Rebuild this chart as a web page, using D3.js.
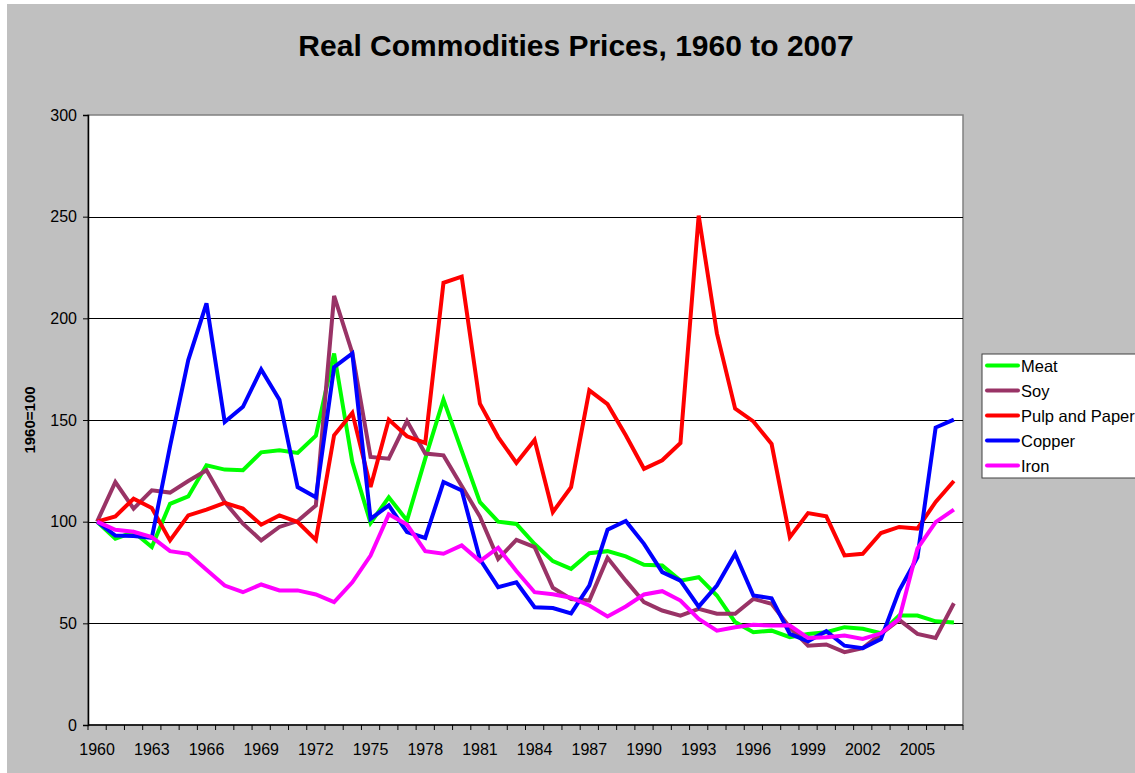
<!DOCTYPE html>
<html>
<head>
<meta charset="utf-8">
<script src="https://cdn.jsdelivr.net/npm/d3@7"></script>
<style>
  body { margin: 0; background: #fff; }
  svg { display: block; font-family: Arial, "Liberation Sans", sans-serif; }
</style>
</head>
<body>
<svg width="1135" height="773"></svg>
<script>
// years 1960..2007
const years = [
  1960, 1961, 1962, 1963, 1964, 1965, 1966, 1967, 1968, 1969,
  1970, 1971, 1972, 1973, 1974, 1975, 1976, 1977, 1978, 1979,
  1980, 1981, 1982, 1983, 1984, 1985, 1986, 1987, 1988, 1989,
  1990, 1991, 1992, 1993, 1994, 1995, 1996, 1997, 1998, 1999,
  2000, 2001, 2002, 2003, 2004, 2005, 2006, 2007
];

const meat = [
  100, 91.6, 94.9, 87.5, 108.8, 112.4, 127.7, 125.6, 125.3, 134.1,
  135.1, 133.8, 142.3, 182.7, 129.3, 99.3, 112, 100.6, 131, 160,
  134.8, 109.6, 100, 98.9, 89, 80.6, 76.8, 84.5, 85.5, 82.9,
  78.8, 78.4, 71, 72.7, 63.7, 50.6, 45.6, 46.4, 43.2, 44.8,
  45.6, 48.1, 47.3, 45.1, 53.8, 53.8, 51, 50.4
];

const soy = [
  100, 119.5, 106.4, 115.4, 114.3, 120, 125.3, 109.6, 99, 90.8,
  97.4, 100.3, 108, 211, 183, 131.8, 131, 149.5, 133.5, 132.6,
  117.5, 102.5, 81.7, 91, 87.5, 67.5, 62, 61.2, 82.2, 71,
  60.4, 56.3, 53.8, 57.1, 54.7, 54.7, 62, 59.6, 48, 39,
  39.6, 35.8, 37.8, 44.8, 51.7, 44.8, 42.8, 59.9
];

const pulp = [
  100, 102.6, 111.3, 106.7, 90.8, 103.1, 105.9, 109.2, 106.4, 98.5,
  103.1, 99.8, 91, 142.5, 153.5, 117, 150.2, 142, 138.7, 217.5,
  220.5, 158, 141.6, 128.9, 140.2, 104.7, 117, 164.6, 157.8, 142.5,
  126, 130.2, 138.7, 250.5, 192.6, 155.6, 149.3, 138.2, 92.4, 104.2,
  102.6, 83.4, 84.2, 94.4, 97.4, 96.6, 109.7, 120
];

const copper = [
  100, 93.2, 92.9, 92, 137, 179.5, 207.4, 149, 156.5, 174.9,
  160, 117, 112, 176, 182.7, 101.4, 108, 94.9, 92, 119.5,
  115.4, 81.5, 67.8, 70.2, 57.9, 57.5, 54.9, 68.6, 96, 100.3,
  89.1, 75.2, 71, 58.2, 68.6, 84.2, 63.7, 62.3, 44.8, 41.2,
  46.1, 39, 37.8, 42.3, 66.1, 82.5, 146.3, 150.2
];

const iron = [
  100, 96, 95, 92.4, 85.5, 84.2, 76.3, 68.6, 65.3, 69.1,
  66.2, 66.2, 64.2, 60.4, 70.2, 83.3, 103.6, 98.6, 85.5, 84.2,
  88.3, 80.6, 87.2, 75.7, 65.3, 64.3, 62.6, 58.8, 53.4, 58.3,
  64.2, 65.8, 61.2, 52.2, 46.4, 48.1, 49.3, 48.9, 48.9, 42.8,
  43.2, 44, 42.3, 45.1, 52.2, 86.7, 99.8, 105.9
];

const seriesNames = ["Meat", "Soy", "Pulp and Paper", "Copper", "Iron"];
const seriesColors = ["#00ff00", "#993366", "#ff0000", "#0000ff", "#ff00ff"];
const seriesValues = [meat, soy, pulp, copper, iron];
const yTicks = [0, 50, 100, 150, 200, 250, 300];
const xLabels = years.filter((d, i) => i % 3 === 0);

const svg = d3.select("svg");

// background
svg.append("rect").attr("x", 7).attr("y", 4).attr("width", 1128).attr("height", 769).attr("fill", "#c0c0c0");

const plot = { left: 88, top: 115, right: 963, bottom: 725 };

const x = d3.scaleBand().domain(years).range([plot.left, plot.right]).padding(0);
const y = d3.scaleLinear().domain([0, 300]).range([plot.bottom, plot.top]);
const cx = (d) => x(d) + x.bandwidth() / 2;

svg.append("rect")
  .attr("x", plot.left).attr("y", plot.top)
  .attr("width", plot.right - plot.left).attr("height", plot.bottom - plot.top)
  .attr("fill", "#fff").attr("stroke", "#808080").attr("stroke-width", 1.5);

// gridlines
svg.append("g")
  .selectAll("line")
  .data(yTicks.filter((t) => t > 0 && t < 300))
  .enter().append("line")
  .attr("x1", plot.left).attr("x2", plot.right)
  .attr("y1", (d) => Math.round(y(d)) + 0.5).attr("y2", (d) => Math.round(y(d)) + 0.5)
  .attr("stroke", "#000").attr("stroke-width", 1);

// y axis
const yAxis = d3.axisLeft(y).tickValues(yTicks).tickSize(5).tickPadding(6);
const yG = svg.append("g").attr("transform", `translate(${plot.left},0)`).call(yAxis);
yG.select(".domain").attr("stroke", "#000").attr("stroke-width", 1.5);
yG.selectAll("text").attr("font-size", 16).attr("fill", "#000").attr("font-family", "Arial, 'Liberation Sans', sans-serif");

// x axis: labels every 3 years, ticks at each category boundary
const xAxis = d3.axisBottom(x).tickValues(xLabels).tickSize(0).tickPadding(19);
const xG = svg.append("g").attr("transform", `translate(0,${plot.bottom})`).call(xAxis);
xG.select(".domain").remove();
xG.selectAll("text").attr("font-size", 16).attr("fill", "#000").attr("font-family", "Arial, 'Liberation Sans', sans-serif");

svg.append("line")
  .attr("x1", plot.left).attr("x2", plot.right)
  .attr("y1", plot.bottom).attr("y2", plot.bottom)
  .attr("stroke", "#000").attr("stroke-width", 1.5);

svg.append("g")
  .selectAll("line")
  .data(years.concat(["end"]))
  .enter().append("line")
  .attr("x1", (d) => (d === "end" ? plot.right : x(d)))
  .attr("x2", (d) => (d === "end" ? plot.right : x(d)))
  .attr("y1", plot.bottom).attr("y2", plot.bottom + 5)
  .attr("stroke", "#000").attr("stroke-width", 1);

// lines
const line = d3.line().x((d, i) => cx(years[i])).y((d) => y(d));

svg.append("g")
  .selectAll("path")
  .data(seriesValues)
  .enter().append("path")
  .attr("d", (d) => line(d))
  .attr("fill", "none")
  .attr("stroke", (d, i) => seriesColors[i])
  .attr("stroke-width", 4)
  .attr("stroke-linejoin", "miter");

// title
svg.append("text")
  .attr("x", 576).attr("y", 56)
  .attr("text-anchor", "middle")
  .attr("font-size", 30).attr("font-weight", "bold")
  .text("Real Commodities Prices, 1960 to 2007");

// y label
svg.append("text")
  .attr("transform", "translate(35,420) rotate(-90)")
  .attr("text-anchor", "middle")
  .attr("font-size", 15).attr("font-weight", "bold")
  .text("1960=100");

// legend
const legend = svg.append("g").attr("transform", "translate(982,354)");
legend.append("rect")
  .attr("x", 0).attr("y", 0).attr("width", 170).attr("height", 124)
  .attr("fill", "#fff").attr("stroke", "#404040").attr("stroke-width", 1);

const items = legend.selectAll("g.item")
  .data(seriesNames)
  .enter().append("g")
  .attr("class", "item")
  .attr("transform", (d, i) => `translate(0,${11.5 + i * 25})`);

items.append("line")
  .attr("x1", 5).attr("x2", 36).attr("y1", 0).attr("y2", 0)
  .attr("stroke", (d, i) => seriesColors[i]).attr("stroke-width", 4)
  .attr("stroke-linecap", "round");

items.append("text")
  .attr("x", 39).attr("y", 6)
  .attr("font-size", 16.5)
  .text((d) => d);
</script>
</body>
</html>
